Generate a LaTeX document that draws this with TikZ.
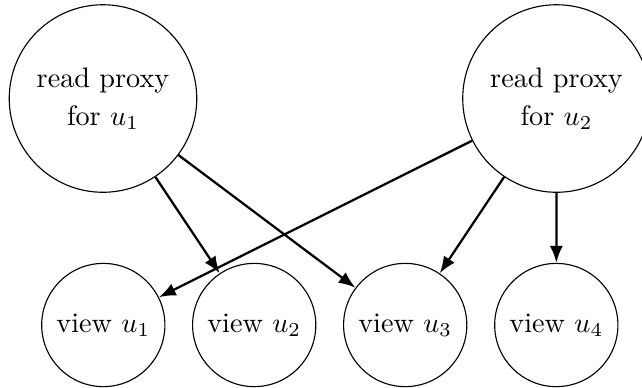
\documentclass[tikz,border=0pt]{standalone}
\usetikzlibrary{arrows.meta}
\begin{document}
\begin{tikzpicture}[x=0.3546pt,y=-0.3546pt,
  bignode/.style={draw,circle,line width=0.4pt,minimum size=66.5pt,inner sep=0pt,align=center,font={\fontsize{10}{13.6}\selectfont}},
  viewnode/.style={draw,circle,line width=0.4pt,minimum size=43.7pt,inner sep=0pt},
  conn/.style={-{Latex[length=6pt,width=4.6pt]},thick}]
\useasboundingbox (0,0) rectangle (642,387);
\node[bignode] (A) at (103,98.5) {read proxy\\for $u_1$};
\node[bignode] (B) at (556.5,98.5) {read proxy\\for $u_2$};
\node[viewnode] (v1) at (103.3,325) {view $u_1$};
\node[viewnode] (v2) at (254.2,325) {view $u_2$};
\node[viewnode] (v3) at (405.2,325) {view $u_3$};
\node[viewnode] (v4) at (556.3,325) {view $u_4$};
\draw[conn] (A) -- (v2);
\draw[conn] (A) -- (v3);
\draw[conn] (B) -- (v1);
\draw[conn] (B) -- (v3);
\draw[conn] (B) -- (v4);
\end{tikzpicture}
\end{document}
